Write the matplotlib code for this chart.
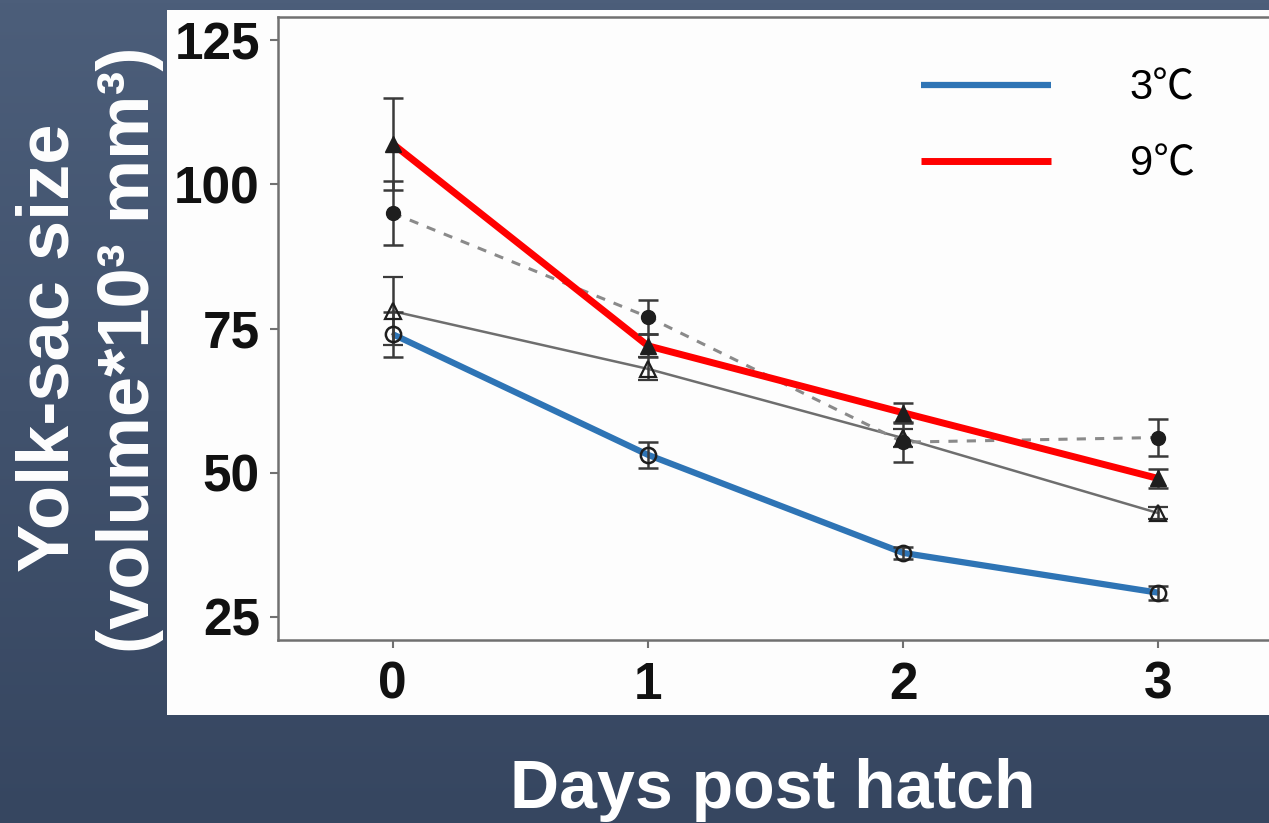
import matplotlib

matplotlib.use("Agg")

import matplotlib.pyplot as plt
import numpy as np
from matplotlib.colors import LinearSegmentedColormap
from matplotlib.patches import Rectangle

# Yolk-sac volume (x10^3 mm^3) by day post hatch, mean +/- SE
days = [0, 1, 2, 3]

open_circle = [74.0, 53.1, 36.1, 29.2]
open_circle_err = [3.9, 2.2, 1.0, 1.2]

open_tri = [78.0, 68.0, 56.0, 43.0]
open_tri_err = [5.9, 2.0, 1.5, 1.0]

filled_tri = [107.0, 72.0, 60.4, 49.0]
filled_tri_err = [8.0, 2.0, 1.7, 1.7]

filled_circle = [95.0, 77.0, 55.3, 56.1]
filled_circle_err = [5.5, 3.0, 3.5, 3.2]

temp_labels = ["3\u2103", "9\u2103"]
temp_colors = ["#2e74b5", "#ff0000"]

W, H = 1269, 823
fig = plt.figure(figsize=(W / 100, H / 100), dpi=100)

# slide background: vertical blue-grey gradient
bg = fig.add_axes([0, 0, 1, 1], zorder=-2)
cmap = LinearSegmentedColormap.from_list("slide", ["#4c5e7a", "#364660"])
bg.imshow(np.linspace(0, 1, 256).reshape(-1, 1), cmap=cmap, aspect="auto",
          extent=[0, 1, 0, 1])
bg.set_axis_off()

# white plot panel
fig.patches.append(Rectangle((167 / W, (H - 715) / H), (W - 167) / W, (715 - 10) / H,
                             transform=fig.transFigure, facecolor="#fdfdfd",
                             edgecolor="none", zorder=-1))

ax = fig.add_axes([278 / W, (H - 640) / H, 995 / W, 623 / H], zorder=0)
ax.set_facecolor("none")

gray = "#6e6e6e"
mk = "#1e1e1e"
eb = dict(ecolor="#3a3a3a", elinewidth=1.8, capsize=7, capthick=1.8)

# underlying series lines
ax.plot(days, open_circle, color=gray, lw=2.2, zorder=2)
ax.plot(days, open_tri, color=gray, lw=1.8, zorder=2)
ax.plot(days, filled_tri, color=gray, lw=1.8, zorder=2)
ax.plot(days, filled_circle, color="#8a8a8a", lw=2.2, ls=(0, (3, 3)), zorder=2)

# temperature overlays
ax.plot(days, open_circle, color=temp_colors[0], lw=4.5, zorder=3,
        solid_capstyle="butt", label=temp_labels[0])
ax.plot(days, filled_tri, color=temp_colors[1], lw=5, zorder=3,
        solid_capstyle="butt", label=temp_labels[1])

ax.errorbar(days, open_circle, yerr=open_circle_err, fmt="o", ms=11, mfc="none",
            mec=mk, mew=1.8, zorder=4, **eb)
ax.errorbar(days, open_tri, yerr=open_tri_err, fmt="^", ms=12, mfc="none",
            mec=mk, mew=1.6, zorder=4, **eb)
ax.errorbar(days, filled_tri, yerr=filled_tri_err, fmt="^", ms=12, mfc=mk,
            mec=mk, zorder=4, **eb)
ax.errorbar(days, filled_circle, yerr=filled_circle_err, fmt="o", ms=10, mfc=mk,
            mec=mk, zorder=4, **eb)

ax.set_xlim(-0.45, 3.45)
ax.set_ylim(21, 129)
ax.set_xticks(days)
ax.set_yticks([25, 50, 75, 100, 125])

for side in ["left", "bottom", "top", "right"]:
    ax.spines[side].set_color("#707070")
    ax.spines[side].set_linewidth(1.8)

ax.tick_params(axis="y", length=6, width=1.5, color="#707070", pad=7)
ax.tick_params(axis="x", length=6, width=1.5, color="#707070", pad=9)
for lab in ax.get_xticklabels() + ax.get_yticklabels():
    lab.set_fontfamily("Liberation Sans")
    lab.set_fontweight("bold")
    lab.set_fontsize(37)
    lab.set_color("#111111")

leg = ax.legend(loc="upper left", bbox_to_anchor=(0.609, 0.977), frameon=False,
                handlelength=3.1, handletextpad=1.9, labelspacing=0.85,
                prop={"family": ["Liberation Sans", "Noto Sans CJK SC"], "size": 30})

fig.text(50 / W, (H - 348) / H, "Yolk-sac size", rotation=90, ha="center",
         va="center", color="white", fontsize=52, fontweight="bold",
         family="Liberation Sans")
fig.text(130 / W, (H - 350) / H, "(volume*10\u00b3 mm\u00b3)", rotation=90,
         ha="center", va="center", color="white", fontsize=52, fontweight="bold",
         family="Liberation Sans")
fig.text(773 / W, (H - 790) / H, "Days post hatch", ha="center", va="center",
         color="white", fontsize=49, fontweight="bold", family="Liberation Sans")

fig.savefig("out.png", dpi=100)
